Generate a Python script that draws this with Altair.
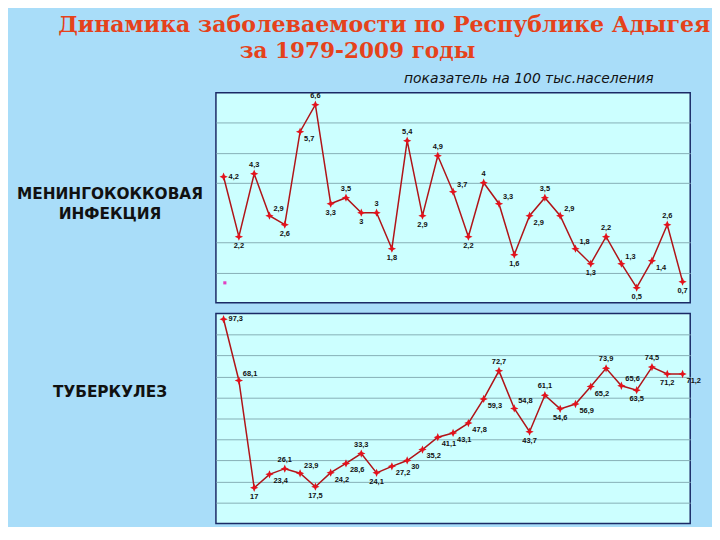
import altair as alt
import pandas as pd

YEARS = list(range(1979, 2010))
MENING = [4.2, 2.2, 4.3, 2.9, 2.6, 5.7, 6.6, 3.3, 3.5, 3, 3, 1.8, 5.4, 2.9, 4.9, 3.7,
          2.2, 4, 3.3, 1.6, 2.9, 3.5, 2.9, 1.8, 1.3, 2.2, 1.3, 0.5, 1.4, 2.6, 0.7]
TUBERC = [97.3, 68.1, 17, 23.4, 26.1, 23.9, 17.5, 24.2, 28.6, 33.3, 24.1, 27.2, 30, 35.2,
          41.1, 43.1, 47.8, 59.3, 72.7, 54.8, 43.7, 61.1, 54.6, 56.9, 65.2, 73.9, 65.6,
          63.5, 74.5, 71.2, 71.2]

TITLE_1 = "Динамика заболеваемости по Республике Адыгея"
TITLE_2 = "за 1979-2009 годы"
SUBTITLE = "показатель на 100 тыс.населения"
LABEL_TOP = ["МЕНИНГОКОККОВАЯ", "ИНФЕКЦИЯ"]
LABEL_BOTTOM = "ТУБЕРКУЛЕЗ"

TOP_DOMAIN = [0, 7]
TOP_GRID = [1, 2, 4, 5, 6]
BOTTOM_DOMAIN = [0, 100]
BOTTOM_GRID = [10, 20, 30, 40, 50, 60, 70, 80, 90]

W = 479
H = 212
LINE_COLOR = "#B01418"
MARK_COLOR = "#E3121C"
GRID_COLOR = "#86AFB6"
STAR = "M0,-1L0.3,-0.3L1,0L0.3,0.3L0,1L-0.3,0.3L-1,0L-0.3,-0.3Z"


def placement(vals):
    out = []
    n = len(vals)
    for i, v in enumerate(vals):
        if i == 0:
            out.append("right")
            continue
        prev = vals[i - 1]
        if i == n - 1:
            out.append("br" if v >= prev else "below")
            continue
        nxt = vals[i + 1]
        if v >= prev and v >= nxt:
            out.append("above")
        elif v <= prev and v <= nxt:
            out.append("below")
        elif v > prev:
            out.append("br")
        else:
            out.append("ar")
    return out


def fmt(v):
    return f"{v:g}".replace(".", ",")


def panel(vals, domain, grid, extra):
    df = pd.DataFrame({
        "year": [str(y) for y in YEARS],
        "v": vals,
        "lab": [fmt(v) for v in vals],
        "pos": placement(vals),
    })
    x = alt.X("year:O", scale=alt.Scale(type="point", padding=0.5), axis=None)
    y = alt.Y("v:Q", scale=alt.Scale(domain=domain, nice=False, zero=True),
              axis=alt.Axis(values=grid, labels=False, ticks=False, domain=False,
                            grid=True, gridColor=GRID_COLOR, gridWidth=1, title=None))
    base = alt.Chart(df).encode(x=x, y=y)
    line = base.mark_line(color=LINE_COLOR, strokeWidth=1.5)
    pts = base.mark_point(shape=STAR, filled=True, color=MARK_COLOR, size=70, opacity=1)
    ts = dict(fontSize=7.5, fontWeight="bold", font="Liberation Sans", color="#111111")
    lab = alt.Text("lab:N")
    layers = [
        base.mark_text(dy=-5, baseline="bottom", **ts).encode(text=lab).transform_filter(alt.datum.pos == "above"),
        base.mark_text(dy=5, baseline="top", **ts).encode(text=lab).transform_filter(alt.datum.pos == "below"),
        base.mark_text(dx=5, dy=0, align="left", baseline="middle", **ts).encode(text=lab).transform_filter(alt.datum.pos == "right"),
        base.mark_text(dx=4, dy=3, align="left", baseline="top", **ts).encode(text=lab).transform_filter(alt.datum.pos == "br"),
        base.mark_text(dx=4, dy=-3, align="left", baseline="bottom", **ts).encode(text=lab).transform_filter(alt.datum.pos == "ar"),
    ]
    return alt.layer(line, pts, *layers, *extra).properties(width=W, height=H)


one = pd.DataFrame({"a": [0]})
anchor = alt.Chart(one).mark_rule(strokeOpacity=0, strokeWidth=1).encode(
    x=alt.value(-209), x2=alt.value(-208), y=alt.value(-82), y2=alt.value(-81))
title_style = dict(font="DejaVu Serif", fontWeight="bold", color="#E5421B",
                   align="center", baseline="alphabetic")
t1 = alt.Chart(one).mark_text(fontSize=22.3, **title_style).encode(
    x=alt.value(170), y=alt.value(-61), text=alt.value(TITLE_1))
t2 = alt.Chart(one).mark_text(fontSize=21.8, **title_style).encode(
    x=alt.value(143), y=alt.value(-35), text=alt.value(TITLE_2))
st = alt.Chart(one).mark_text(font="DejaVu Sans", fontStyle="italic", fontSize=14,
                              color="#111111", align="center", baseline="alphabetic").encode(
    x=alt.value(316), y=alt.value(-10), text=alt.value(SUBTITLE))
side_style = dict(font="DejaVu Sans", fontWeight="bold", fontSize=15.5, color="#111111",
                  align="center", baseline="alphabetic")
lt1 = alt.Chart(one).mark_text(**side_style).encode(
    x=alt.value(-107), y=alt.value(107), text=alt.value(LABEL_TOP[0]))
lt2 = alt.Chart(one).mark_text(**side_style).encode(
    x=alt.value(-107), y=alt.value(128), text=alt.value(LABEL_TOP[1]))
lb = alt.Chart(one).mark_text(**side_style).encode(
    x=alt.value(-107), y=alt.value(84), text=alt.value(LABEL_BOTTOM))
legend_dot = alt.Chart(one).mark_point(shape="square", filled=True, color="#E040C0",
                                       size=10, opacity=1).encode(
    x=alt.value(9), y=alt.value(192))

top = panel(MENING, TOP_DOMAIN, TOP_GRID, [anchor, t1, t2, st, lt1, lt2, legend_dot])
bottom = panel(TUBERC, BOTTOM_DOMAIN, BOTTOM_GRID, [lb])

chart = alt.vconcat(top, bottom, spacing=11, bounds="flush").properties(
    padding=0, background="#A9DDF9"
).configure_view(fill="#CCFFFF", stroke="#1B2A66", strokeWidth=1.5)

chart.save("out.html", embed_options={"renderer": "svg", "actions": False})
